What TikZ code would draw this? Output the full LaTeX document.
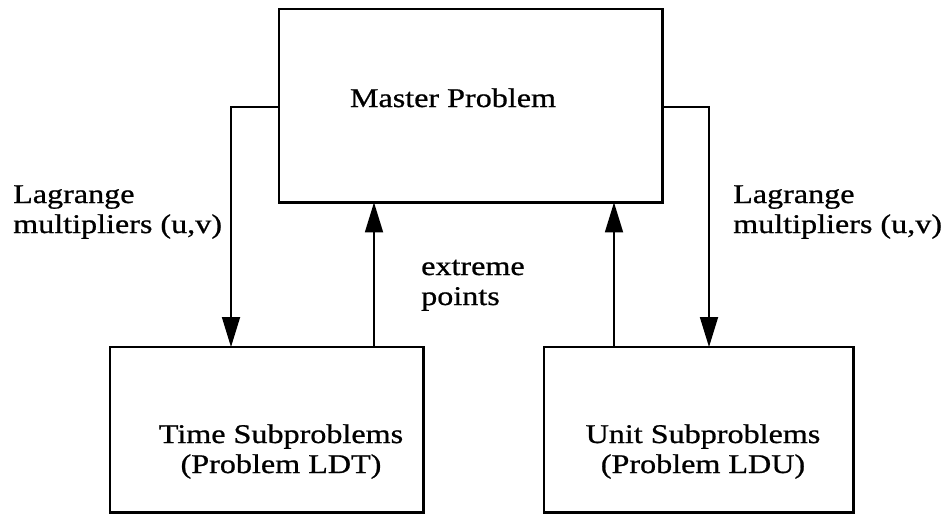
\documentclass[tikz,border=0pt]{standalone}
\usepackage{fontspec}
\setmainfont{Liberation Serif}[FakeStretch=1.19,FakeBold=0.8]
\usetikzlibrary{arrows.meta}
\begin{document}
\begin{tikzpicture}[x=1pt,y=-1pt,
  boxline/.style={line width=2.6pt},
  conn/.style={line width=1.8pt,-{Triangle[length=30pt,width=18pt]}},
  lbl/.style={font=\fontsize{27}{30}\selectfont,inner sep=0pt,align=left},
  txt/.style={font=\fontsize{27}{30}\selectfont,inner sep=0pt,align=center}]
\useasboundingbox (0,0) rectangle (944,515);
\node[minimum width=383pt,minimum height=193pt,anchor=north west,inner sep=0pt] (master) at (279,9) {};
\node[minimum width=313pt,minimum height=165pt,anchor=north west,inner sep=0pt] (time) at (110,347) {};
\node[minimum width=309pt,minimum height=165pt,anchor=north west,inner sep=0pt] (unit) at (544,347) {};
\draw[boxline] (master.north west) rectangle (master.south east);
\draw[boxline] (time.north west) rectangle (time.south east);
\draw[boxline] (unit.north west) rectangle (unit.south east);
\node[txt,anchor=base] (mt) at (453,107) {Master Problem};
\node[txt,anchor=base] (tt) at (281,473) {Time Subproblems\\(Problem LDT)};
\node[txt,anchor=base] (ut) at (703,473) {Unit Subproblems\\(Problem LDU)};
\node[lbl,anchor=base west] (ll) at (13,233) {Lagrange\\multipliers (u,v)};
\node[lbl,anchor=base west] (rl) at (733,233) {Lagrange\\multipliers (u,v)};
\node[lbl,anchor=base west] (ep) at (421,305) {extreme\\points};
\coordinate (l1) at (231,107);
\coordinate (r1) at (709,107);
\draw[conn] (master.west |- l1) -- (l1) -- (l1 |- time.north);
\draw[conn] (master.east |- r1) -- (r1) -- (r1 |- unit.north);
\draw[conn] (time.north -| 374,0) -- (master.south -| 374,0);
\draw[conn] (unit.north -| 614,0) -- (master.south -| 614,0);
\end{tikzpicture}
\end{document}
